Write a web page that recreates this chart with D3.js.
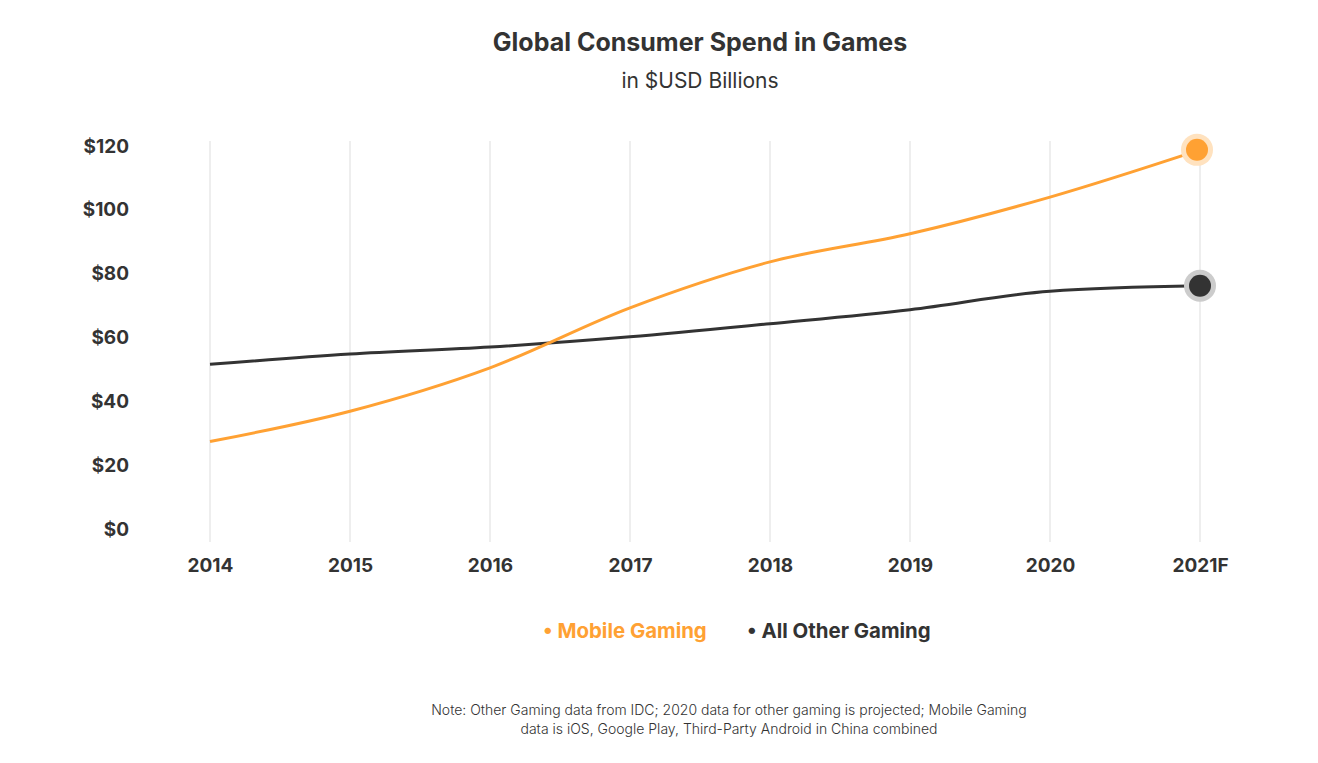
<!DOCTYPE html>
<html>
<head>
<meta charset="utf-8">
<script src="https://cdn.jsdelivr.net/npm/d3@7"></script>
<style>
  html, body { margin: 0; padding: 0; background: #fff; }
  svg { display: block; font-family: Inter, "Noto Sans", sans-serif; }
</style>
</head>
<body>
<svg id="chart" width="1318" height="763"></svg>
<script>
const years = ["2014", "2015", "2016", "2017", "2018", "2019", "2020", "2021F"];
const mobileGaming = [27.4, 36.9, 50.5, 69.3, 83.7, 92.5, 104, 118.8];
const otherGaming = [51.6, 54.8, 57.0, 60.2, 64.3, 68.7, 74.5, 76.2];
const yTicks = [0, 20, 40, 60, 80, 100, 120];
const seriesNames = ["Mobile Gaming", "All Other Gaming"];

const ORANGE = "#FFA133", DARK = "#333333";
const svg = d3.select("#chart");

// x: index-based, last (forecast) step slightly wider
const x = d3.scaleLinear().domain([0, 6, 7]).range([210, 1050, 1200]);
const y = d3.scaleLinear().domain([0, 120]).range([529, 146]);

// Title
svg.append("text").attr("x", 700).attr("y", 51).attr("text-anchor", "middle")
  .attr("font-size", 25).attr("font-weight", 700).attr("fill", "#333")
  .attr("letter-spacing", "0").text("Global Consumer Spend in Games");
svg.append("text").attr("x", 700).attr("y", 88).attr("text-anchor", "middle")
  .attr("font-size", 21).attr("font-weight", 400).attr("fill", "#333")
  .text("in $USD Billions");

// Gridlines
svg.append("g").selectAll("line").data(years).join("line")
  .attr("x1", (d, i) => x(i)).attr("x2", (d, i) => x(i))
  .attr("y1", 141).attr("y2", 542)
  .attr("stroke", "#eeeeee").attr("stroke-width", 2);

// Y axis
const yAxis = d3.axisLeft(y).tickValues(yTicks).tickSize(0).tickPadding(0)
  .tickFormat(d => "$" + d);
const gy = svg.append("g").attr("transform", "translate(129,0)").call(yAxis);
gy.select(".domain").remove();
gy.selectAll("text").attr("font-size", 19).attr("font-weight", 700)
  .attr("fill", "#333").attr("font-family", "Inter, sans-serif");

// X axis
const xAxis = d3.axisBottom(x).tickValues(d3.range(years.length)).tickSize(0)
  .tickPadding(0).tickFormat(i => years[i]);
const gx = svg.append("g").attr("transform", "translate(0,558)").call(xAxis);
gx.select(".domain").remove();
gx.selectAll("text").attr("font-size", 19).attr("font-weight", 700)
  .attr("fill", "#333").attr("font-family", "Inter, sans-serif");

// Lines
const line = d3.line().x((d, i) => x(i)).y(d => y(d)).curve(d3.curveMonotoneX);
svg.append("path").datum(otherGaming).attr("d", line)
  .attr("fill", "none").attr("stroke", DARK).attr("stroke-width", 3);
svg.append("path").datum(mobileGaming).attr("d", line)
  .attr("fill", "none").attr("stroke", ORANGE).attr("stroke-width", 3);

// End dots
const last = years.length - 1;
[[mobileGaming, ORANGE, "#FFE2BF", -3], [otherGaming, DARK, "#cccccc", 0]].forEach(([s, c, halo, dx]) => {
  svg.append("circle").attr("cx", x(last) + dx).attr("cy", y(s[last])).attr("r", 16).attr("fill", halo);
  svg.append("circle").attr("cx", x(last) + dx).attr("cy", y(s[last])).attr("r", 11).attr("fill", c);
});

// Legend
const legend = svg.append("g").attr("font-size", 20.4).attr("font-weight", 700);
legend.append("text").attr("x", 543).attr("y", 638).attr("fill", ORANGE)
  .text("• " + seriesNames[0]);
legend.append("text").attr("x", 747).attr("y", 638).attr("fill", DARK)
  .text("• " + seriesNames[1]);

// Note
const note = svg.append("text").attr("text-anchor", "middle").attr("font-size", 14)
  .attr("font-weight", 300).attr("fill", "#333");
note.append("tspan").attr("x", 729).attr("y", 715)
  .text("Note: Other Gaming data from IDC; 2020 data for other gaming is projected; Mobile Gaming");
note.append("tspan").attr("x", 729).attr("y", 734)
  .text("data is iOS, Google Play, Third-Party Android in China combined");
</script>
</body>
</html>
